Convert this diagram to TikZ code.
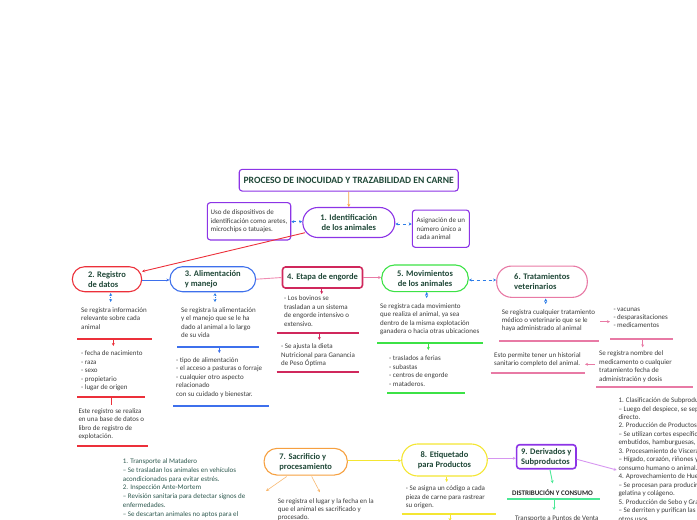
\documentclass[tikz,border=0pt]{standalone}
\usepackage{fontspec}
\setmainfont{Carlito}
\usetikzlibrary{arrows.meta}
\definecolor{cpurple}{RGB}{140,52,230}
\definecolor{cred}{RGB}{236,48,58}
\definecolor{cblue}{RGB}{62,112,236}
\definecolor{ccrim}{RGB}{208,40,92}
\definecolor{cgreen}{RGB}{60,226,70}
\definecolor{cpink}{RGB}{232,122,165}
\definecolor{clpink}{RGB}{240,140,178}
\definecolor{corange}{RGB}{246,160,64}
\definecolor{cyellow}{RGB}{244,230,50}
\definecolor{clav}{RGB}{214,150,240}
\definecolor{cmint}{RGB}{75,232,150}
\definecolor{cdash}{RGB}{45,125,232}
\definecolor{labcol}{RGB}{32,72,56}
\definecolor{bodycol}{RGB}{60,60,60}
\definecolor{tealtext}{RGB}{45,88,78}
\tikzset{
  lbl/.style={font=\fontsize{8.5}{10}\selectfont\bfseries, text=labcol},
  stad/.style={lbl, draw, line width=1.1pt, fill=white, rounded corners=#1, inner sep=0pt},
  stad/.default=12pt,
  bfont/.style={font=\fontsize{7}{8.4}\selectfont, text=bodycol},
  body/.style={bfont, align=left, inner sep=0pt, anchor=north west, execute at begin node=\strut},
  boxed/.style={bfont, draw=cpurple, line width=1.1pt, rounded corners=3pt, inner sep=0pt, align=left, fill=white},
  uline/.style={line width=1.8pt},
  tip/.style={-{Stealth[length=3pt,width=3pt]}},
  dtip/.style={{Stealth[length=3pt,width=3pt]}-{Stealth[length=3pt,width=3pt]}},
  conn/.style={line width=0.9pt},
}
\begin{document}
\begin{tikzpicture}[x=1pt,y=-1pt]
\path[use as bounding box] (0,0) rectangle (697,520);
\clip (0,0) rectangle (697,520);

% ---------- main nodes ----------
\node[stad=3pt, draw=cpurple, minimum width=219pt, minimum height=21.7pt, font=\fontsize{9.6}{11}\selectfont\bfseries] (title) at (348.7,180.2) {PROCESO DE INOCUIDAD Y TRAZABILIDAD EN CARNE};
\node[stad=15pt, draw=cpurple, minimum width=92pt, minimum height=30pt, align=center] (n1) at (348.8,222.5) {1. Identificación\\de los animales};
\node[boxed, minimum width=83.4pt, minimum height=37.3pt] (uso) at (249,221.3) {Uso de dispositivos de\\identificación como aretes,\\ microchips o tatuajes.};
\node[boxed, minimum width=57pt, minimum height=37.3pt] (asig) at (440.8,228.7) {Asignación de un\\número único a\\cada animal};

\node[stad=12.5pt, draw=cred, minimum width=69.4pt, minimum height=25pt, align=left] (n2) at (107,279.2) {2. Registro\\de datos};
\node[stad=12.5pt, draw=cblue, minimum width=85.7pt, minimum height=25pt, align=left] (n3) at (212.8,279.2) {3. Alimentación\\ y manejo};
\node[stad=3pt, draw=ccrim, line width=1.6pt, minimum width=80pt, minimum height=21pt] (n4) at (322.5,277.5) {4. Etapa de engorde};
\node[stad=13pt, draw=cgreen, minimum width=86.6pt, minimum height=26.7pt, align=center] (n5) at (425,278.3) {5. Movimientos\\de los animales};
\node[stad=15pt, draw=cpink, minimum width=90.6pt, minimum height=31.3pt, align=left] (n6) at (542,281.7) {6. Tratamientos\\veterinarios};

\node[stad=13pt, draw=corange, minimum width=83.3pt, minimum height=26.7pt, align=left] (n7) at (305.7,461.7) {7. Sacrificio y\\procesamiento};
\node[stad=16pt, draw=cyellow, minimum width=85.6pt, minimum height=32pt, align=center] (n8) at (444.5,460) {8. Etiquetado\\para Productos};
\node[stad=3pt, draw=cpurple, line width=1.6pt, minimum width=59.3pt, minimum height=24pt, align=left] (n9) at (546.3,456.7) {9. Derivados y\\Subproductos};

% ---------- top connectors ----------
\draw[corange, conn, tip] (title.south) -- (n1.north);
\draw[cdash, conn, dashed, dtip] (uso.east |- 0,221.7) -- (n1.west |- 0,221.7);
\draw[cdash, conn, dashed, dtip] (n1.east |- 0,224) -- (asig.west |- 0,224);
\coordinate (n1sw) at (305,232.7);
\coordinate (n2ne) at (142,271.5);
\draw[cred, conn, tip] (n1sw) -- (n2ne);
\draw[cblue, conn, tip] (n2.east |- 0,280) -- (n3.west |- 0,280);
\draw[clpink, conn] (n3.east) -- (n4.west);
\draw[cpink, conn, tip] (n4.east) -- (n5.west |- n4.east);
\draw[cdash, conn, dashed, dtip] (n5.east |- 0,280) -- (n6.west |- 0,280);

% ---------- column 2 ----------
\coordinate (a2s) at (110.7,293); \coordinate (a2e) at (110.7,302);
\draw[cdash, conn, densely dotted, dtip] (a2s) -- (a2e);
\node[body] (t2a) at (81,307.5) {Se registra información\\relevante sobre cada\\animal};
\draw[cred, uline] (77.3,338.7) -- (151.7,338.7);
\coordinate (b2s) at (113.3,339.5); \coordinate (b2e) at (113.3,346);
\draw[cred, conn, tip] (b2s) -- (b2e);
\node[body] (t2b) at (81,350.8) {- fecha de nacimiento\\- raza\\- sexo\\- propietario\\- lugar de origen};
\draw[cred, uline] (77.3,396.7) -- (145,396.7);
\coordinate (c2s) at (111,397.5); \coordinate (c2e) at (111,405);
\draw[cred, conn] (c2s) -- (c2e);
\node[body] (t2c) at (78.3,408.5) {Este registro se realiza\\en una base de datos o\\libro de registro de\\explotación.};
\draw[cred, uline] (77.3,445.7) -- (148,445.7);

% ---------- column 3 ----------
\coordinate (a3s) at (215,293); \coordinate (a3e) at (215,302);
\draw[cdash, conn, densely dotted, dtip] (a3s) -- (a3e);
\node[body] (t3a) at (181,307.5) {Se registra la alimentación\\y el manejo que se le ha\\dado al animal a lo largo\\de su vida};
\draw[cblue, uline] (177.3,347.3) -- (259.3,347.3);
\coordinate (b3s) at (219.3,348); \coordinate (b3e) at (219.3,353);
\draw[cblue, conn, tip] (b3s) -- (b3e);
\node[body] (t3b) at (176,357.5) {- tipo de alimentación\\- el acceso a pasturas o forraje\\- cualquier otro aspecto\\relacionado\\con su cuidado y bienestar.};
\draw[cblue, uline] (173.3,405.7) -- (269,405.7);

% ---------- column 4 ----------
\coordinate (a4s) at (321.7,288.5); \coordinate (a4e) at (321.7,294);
\draw[ccrim, conn, tip] (a4s) -- (a4e);
\node[body] (t4a) at (284,295.8) {- Los bovinos se\\trasladan a un sistema\\de engorde intensivo o\\extensivo.};
\draw[ccrim, uline] (276.7,332.7) -- (359.3,332.7);
\coordinate (b4s) at (319.3,333.5); \coordinate (b4e) at (319.3,340);
\draw[ccrim, conn, tip] (b4s) -- (b4e);
\node[body] (t4b) at (281,343.8) {- Se ajusta la dieta\\Nutricional para Ganancia\\de Peso Óptima};
\draw[ccrim, uline] (276.7,371.7) -- (359.3,371.7);

% ---------- column 5 ----------
\coordinate (a5s) at (426.7,292); \coordinate (a5e) at (426.7,298);
\draw[cdash, conn, densely dotted, dtip] (a5s) -- (a5e);
\node[body] (t5a) at (380,303.5) {Se registra cada movimiento\\que realiza el animal, ya sea\\dentro de la misma explotación\\ganadera o hacia otras ubicaciones};
\draw[cgreen, uline] (377.3,342.7) -- (483.3,342.7);
\coordinate (b5s) at (428.3,343.5); \coordinate (b5e) at (428.3,350);
\draw[cgreen, conn, tip] (b5s) -- (b5e);
\node[body] (t5b) at (389,355.8) {- traslados a ferias\\- subastas\\- centros de engorde\\- mataderos.};
\draw[cgreen, uline] (387,393) -- (465,393);

% ---------- column 6 ----------
\coordinate (a6s) at (545.7,298.5); \coordinate (a6e) at (545.7,304);
\draw[cdash, conn, densely dotted, dtip] (a6s) -- (a6e);
\node[body] (t6a) at (501.7,309.1) {Se registra cualquier tratamiento\\médico o veterinario que se le\\haya administrado al animal};
\draw[cpink, uline] (499.3,340.7) -- (599.3,340.7);
\coordinate (b6s) at (600,321.7); \coordinate (b6e) at (610,321.7);
\draw[cpink, conn, tip] (b6s) -- (b6e);
\node[body] (t6b) at (613.3,307.5) {- vacunas\\- desparasitaciones\\- medicamentos};
\draw[cpink, uline] (610,338.7) -- (672.7,338.7);
\coordinate (c6s) at (642.7,339.5); \coordinate (c6e) at (642.7,347.3);
\draw[cpink, conn, tip] (c6s) -- (c6e);
\node[body] (t6c) at (599,350.8) {Se registra nombre del\\medicamento o cualquier\\tratamiento fecha de\\administración y dosis};
\draw[cpink, uline] (596,386.7) -- (693.3,386.7);
\coordinate (d6s) at (595,364.3); \coordinate (d6e) at (585,364.3);
\draw[cpink, conn, tip] (d6s) -- (d6e);
\node[body] (t6d) at (494,352.5) {Esto permite tener un historial\\sanitario completo del animal.};
\draw[cpink, uline] (490.7,372.7) -- (585,372.7);

% ---------- bottom ----------
\draw[cyellow, conn, tip] (n7.east |- 0,460.7) -- (n8.west |- 0,460.7);
\draw[clav, conn, tip] (n8.east |- 0,458.3) -- (n9.west |- 0,458.3);

\node[body, text=tealtext, font=\fontsize{7}{8.8}\selectfont] (t7l) at (122.7,458.5) {1. Transporte al Matadero\\-- Se trasladan los animales en vehículos\\acondicionados para evitar estrés.\\2. Inspección Ante-Mortem\\– Revisión sanitaria para detectar signos de\\enfermedades.\\– Se descartan animales no aptos para el};
\coordinate (o1s) at (286.7,476.5); \coordinate (o1e) at (266,491);
\draw[corange!75, line width=0.6pt, tip] (o1s) -- (o1e);
\coordinate (o2s) at (311.7,476.5); \coordinate (o2e) at (320,492.3);
\draw[corange!75, line width=0.6pt, tip] (o2s) -- (o2e);
\node[body] (t7a) at (277.7,498.1) {Se registra el lugar y la fecha en la\\que el animal es sacrificado y\\procesado.};

\coordinate (y8s) at (446.7,477); \coordinate (y8e) at (446.7,482);
\draw[cyellow, conn, tip] (y8s) -- (y8e);
\node[body] (t8a) at (405.7,485.8) {- Se asigna un código a cada\\pieza de carne para rastrear\\su origen.};
\draw[cyellow, uline] (401.7,514) -- (496,514);
\coordinate (y8b) at (450,515); \coordinate (y8c) at (450,521);
\draw[cyellow, conn, tip] (y8b) -- (y8c);

\node[font=\fontsize{7}{8}\selectfont\bfseries, text=black!85, inner sep=0pt] (dist) at (552.5,492.3) {DISTRIBUCIÓN Y CONSUMO};
\coordinate (m9s) at (550,470); \coordinate (m9e) at (552.7,483.3);
\draw[cmint, conn, tip] (m9s) -- (m9e);
\draw[cmint, uline] (507.3,499) -- (600,499);
\coordinate (m9b) at (554,500); \coordinate (m9c) at (554,510);
\draw[cmint, conn, tip] (m9b) -- (m9c);
\node[body] (td) at (515,514.8) {Transporte a Puntos de Venta};

\node[body, font=\fontsize{7}{8.46}\selectfont] (t9) at (618.3,397.5) {1. Clasificación de Subproductos\\– Luego del despiece, se separan las partes no aptas para consumo\\directo.\\2. Producción de Productos Cárnicos\\– Se utilizan cortes específicos para elaborar\\embutidos, hamburguesas, chorizos\\3. Procesamiento de Vísceras\\– Hígado, corazón, riñones y otros órganos para\\consumo humano o animal.\\4. Aprovechamiento de Huesos\\– Se procesan para producir harina de hueso,\\gelatina y colágeno.\\5. Producción de Sebo y Grasa\\– Se derriten y purifican las grasas para\\otros usos.};
\coordinate (l9e) at (616.7,470);
\draw[clav, conn, tip] (n9.east |- 0,459.3) -- (l9e);
\end{tikzpicture}
\end{document}
